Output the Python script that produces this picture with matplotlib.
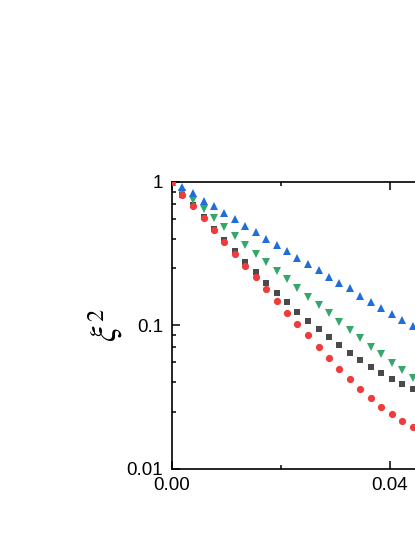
import matplotlib
matplotlib.use("Agg")
import matplotlib.pyplot as plt
from matplotlib.ticker import FixedLocator, MultipleLocator, FixedFormatter

plt.rcParams['font.family'] = ['Liberation Sans', 'DejaVu Sans']
plt.rcParams['mathtext.fontset'] = 'stix'

# data
x = [0, 0.0019, 0.0038, 0.0058, 0.0077, 0.0096, 0.0115, 0.0134, 0.0154, 0.0173,
     0.0192, 0.0211, 0.0230, 0.0250, 0.0269, 0.0288, 0.0307, 0.0326, 0.0346, 0.0365,
     0.0384, 0.0403, 0.0422, 0.0442]

blue = [1.0, 0.914, 0.830, 0.737, 0.677, 0.608, 0.547, 0.494, 0.449, 0.399,
        0.362, 0.329, 0.292, 0.266, 0.243, 0.218, 0.196, 0.181, 0.161, 0.146,
        0.132, 0.119, 0.109, 0.099]
green = [1.0, 0.838, 0.746, 0.642, 0.556, 0.481, 0.418, 0.362, 0.313, 0.274,
         0.240, 0.209, 0.181, 0.158, 0.138, 0.121, 0.105, 0.0926, 0.081, 0.0708,
         0.0627, 0.0548, 0.0487, 0.0431]
gray = [1.0, 0.812, 0.685, 0.565, 0.468, 0.392, 0.331, 0.277, 0.234, 0.198,
        0.168, 0.144, 0.124, 0.107, 0.0941, 0.0823, 0.0728, 0.0643, 0.0569, 0.0509,
        0.0462, 0.0420, 0.0387, 0.0361]
red = [1.0, 0.808, 0.677, 0.556, 0.461, 0.382, 0.313, 0.260, 0.216, 0.179,
       0.147, 0.122, 0.102, 0.0851, 0.0708, 0.0594, 0.0498, 0.0422, 0.0361, 0.0310,
       0.0270, 0.0239, 0.0215, 0.0195]

ytick_vals = [0.01, 0.1, 1]
ytick_labels = ['0.01', '0.1', '1']
yminor = [0.025, 0.04, 0.055, 0.07, 0.085, 0.25, 0.4, 0.55, 0.7, 0.85]

fig = plt.figure(figsize=(4.15, 5.37), dpi=100)
ax = fig.add_axes([0.4145, 0.1272, 1.05, 0.5344])

ax.plot(x, gray, 's', color='#4a4a4a', ms=4.5, mew=0, zorder=3)
ax.plot(x, red, 'o', color='#ef3b3b', ms=5.2, mew=0, zorder=4)
ax.plot(x, green, 'v', color='#33a86a', ms=6.2, mew=0, zorder=3)
ax.plot(x, blue, '^', color='#1f6edb', ms=6.2, mew=0, zorder=3)

ax.set_yscale('log')
ax.set_ylim(0.01, 1)
ax.set_xlim(0, 0.08)

ax.yaxis.set_major_locator(FixedLocator(ytick_vals))
ax.yaxis.set_major_formatter(FixedFormatter(ytick_labels))
ax.yaxis.set_minor_locator(FixedLocator(yminor))
ax.yaxis.set_minor_formatter(plt.NullFormatter())
ax.xaxis.set_major_locator(MultipleLocator(0.04))
ax.xaxis.set_minor_locator(MultipleLocator(0.02))
ax.xaxis.set_major_formatter(plt.FuncFormatter(lambda v, p: f'{v:.2f}'))

ax.tick_params(which='both', direction='in', top=True, right=True, labelsize=13.5, width=1.1)
ax.tick_params(which='major', length=5.5)
ax.tick_params(axis='y', which='major', pad=6.5)
ax.tick_params(axis='x', which='major', pad=6)
ax.tick_params(which='minor', length=3)
for s in ax.spines.values():
    s.set_linewidth(1.2)

ax.set_ylabel(r'$\xi^2$', fontsize=25)
ax.yaxis.set_label_coords(-0.108, 0.5)

fig.savefig('out.png', dpi=100)
